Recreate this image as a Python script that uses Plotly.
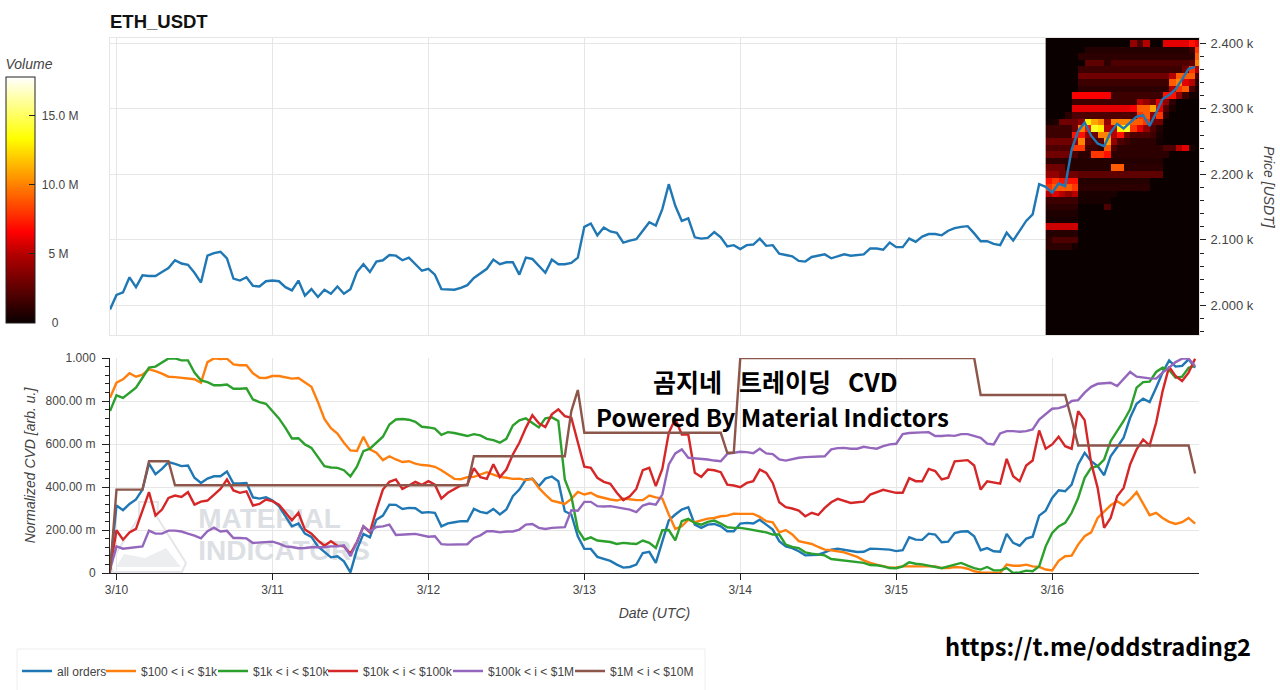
# ETH_USDT price / order book heatmap with normalized CVD per order size

import pandas as pd
import plotly.graph_objects as go

# hourly samples
times = pd.date_range('2022-03-09 23:00', periods=168, freq='h')

price = [
    1994, 2016, 2020, 2043, 2028, 2046, 2045, 2045, 2051, 2057, 2069, 2064, 2062, 2050, 2035, 2076, 2080, 2082, 2072, 2041, 2038, 2043, 2030, 2029,
    2037, 2038, 2037, 2028, 2023, 2038, 2015, 2025, 2013, 2024, 2018, 2029, 2018, 2025, 2051, 2063, 2051, 2067, 2069, 2077, 2076, 2069, 2073, 2063,
    2053, 2056, 2047, 2025, 2024, 2024, 2027, 2031, 2042, 2049, 2056, 2070, 2063, 2066, 2066, 2047, 2073, 2071, 2061, 2050, 2070, 2063, 2063, 2065,
    2073, 2120, 2125, 2107, 2119, 2113, 2111, 2096, 2099, 2101, 2114, 2127, 2122, 2147, 2185, 2152, 2129, 2133, 2104, 2102, 2103, 2112, 2104, 2090,
    2092, 2086, 2092, 2093, 2102, 2091, 2092, 2079, 2077, 2075, 2068, 2067, 2074, 2076, 2078, 2072, 2075, 2078, 2076, 2077, 2078, 2087, 2087, 2085,
    2096, 2089, 2089, 2102, 2097, 2105, 2109, 2109, 2107, 2114, 2118, 2120, 2121, 2110, 2098, 2098, 2094, 2092, 2111, 2099, 2114, 2129, 2139, 2185,
    2181, 2172, 2186, 2182, 2238, 2266, 2279, 2259, 2247, 2243, 2264, 2277, 2270, 2279, 2288, 2290, 2274, 2294, 2315, 2321, 2330, 2345, 2361, 2364,
]

all_orders = [
    .016, .314, .292, .321, .342, .388, .509, .460, .484, .516, .508, .497, .500, .443, .419, .439, .450, .450, .472, .416, .416, .419, .352, .346, .352,
    .337, .311, .267, .217, .230, .183, .168, .124, .098, .073, .078, .054, .003, .109, .182, .166, .248, .267, .318, .317, .298, .303, .301, .280,
    .283, .280, .217, .231, .236, .241, .241, .298, .284, .278, .298, .272, .295, .357, .388, .435, .438, .404, .439, .449, .427, .287, .272, .171,
    .112, .112, .075, .067, .056, .039, .025, .028, .039, .093, .098, .047, .148, .245, .272, .295, .306, .225, .210, .225, .228, .217, .194, .194,
    .230, .233, .230, .248, .225, .202, .148, .124, .116, .101, .082, .085, .085, .096, .109, .113, .109, .104, .098, .099, .113, .112, .110,
    .109, .102, .106, .166, .155, .154, .183, .179, .143, .146, .186, .193, .194, .171, .106, .116, .101, .099, .182, .140, .127, .160, .169,
    .267, .290, .349, .385, .380, .411, .505, .559, .520, .497, .455, .543, .585, .629, .722, .787, .811, .795, .862, .932, .989, .960, .963, .994, .955,
]
usd_100_1k = [
    .815, .885, .901, .929, .913, .922, .947, .939, .927, .913, .911, .908, .904, .901, .885, .981, .998, .995, .997, .970, .966, .966, .929, .908, .907,
    .916, .916, .910, .904, .907, .888, .866, .795, .717, .674, .649, .606, .570, .568, .634, .575, .559, .525, .543, .528, .516, .520, .509, .502,
    .500, .494, .478, .458, .438, .436, .446, .447, .458, .469, .458, .447, .443, .438, .439, .432, .438, .396, .365, .337, .329, .321, .345, .377,
    .365, .373, .357, .349, .342, .337, .346, .343, .339, .339, .360, .352, .346, .272, .205, .217, .248, .236, .245, .253, .256, .264, .267, .276,
    .275, .275, .275, .261, .241, .236, .189, .200, .179, .148, .140, .135, .121, .109, .106, .101, .096, .085, .075, .059, .047, .039, .031,
    .025, .026, .031, .031, .031, .028, .031, .031, .023, .023, .028, .026, .020, .008, .003, .003, 0, 0, .039, .034, .034, .039, .031,
    .028, .016, .012, .057, .078, .081, .132, .171, .189, .256, .287, .315, .334, .315, .342, .376, .323, .269, .280, .256, .238, .228, .236, .256, .230,
]
usd_1k_10k = [
    .753, .826, .814, .839, .862, .908, .955, .960, .981, .998, .998, .989, .989, .932, .896, .888, .873, .873, .877, .857, .857, .859, .807, .795, .787,
    .753, .719, .675, .626, .627, .598, .582, .539, .497, .491, .489, .478, .449, .494, .567, .578, .606, .634, .691, .714, .716, .713, .703, .680,
    .677, .672, .643, .655, .651, .644, .637, .646, .640, .624, .618, .606, .624, .686, .710, .719, .696, .677, .719, .724, .707, .435, .357, .202,
    .155, .166, .151, .149, .144, .135, .140, .137, .135, .151, .140, .116, .199, .200, .152, .241, .252, .233, .225, .238, .244, .230, .213, .210,
    .210, .205, .199, .193, .189, .179, .179, .132, .121, .116, .096, .090, .085, .082, .065, .062, .059, .053, .050, .047, .037, .036, .031,
    .023, .022, .031, .050, .043, .040, .034, .031, .022, .031, .039, .047, .034, .023, .016, .028, .012, .012, .023, 0, .003, .011, .008,
    .031, .124, .186, .217, .233, .280, .349, .443, .489, .497, .528, .613, .660, .707, .761, .862, .888, .890, .935, .955, .944, .908, .913, .955, .963,
]
usd_10k_100k = [
    .016, .199, .155, .189, .205, .295, .376, .267, .295, .349, .360, .354, .376, .318, .332, .337, .365, .391, .435, .384, .373, .380, .314, .321, .342,
    .334, .318, .280, .245, .280, .202, .183, .152, .127, .148, .127, .124, .090, .143, .217, .189, .295, .388, .424, .435, .391, .407, .424, .410,
    .427, .411, .346, .373, .391, .407, .411, .488, .446, .438, .506, .446, .481, .551, .606, .675, .734, .696, .679, .738, .761, .730, .722, .613,
    .494, .489, .443, .424, .415, .373, .339, .357, .391, .478, .489, .404, .484, .652, .717, .644, .644, .466, .447, .481, .478, .469, .411, .407,
    .399, .419, .427, .481, .466, .419, .329, .306, .300, .290, .264, .280, .270, .303, .329, .345, .334, .326, .329, .332, .365, .377, .387,
    .380, .373, .373, .441, .427, .427, .484, .474, .435, .443, .519, .523, .525, .500, .388, .427, .422, .416, .531, .450, .427, .500, .523,
    .663, .578, .598, .634, .590, .578, .753, .711, .512, .396, .210, .256, .357, .396, .505, .575, .621, .593, .699, .846, .960, .916, .893, .932, .997,
]
usd_100k_1m = [
    .016, .124, .113, .116, .118, .124, .197, .183, .183, .197, .197, .193, .183, .174, .161, .194, .211, .193, .196, .163, .163, .161, .140, .141, .144,
    .146, .137, .124, .121, .115, .116, .120, .120, .120, .124, .124, .129, .078, .143, .217, .194, .214, .217, .225, .177, .177, .180, .182, .174,
    .169, .171, .134, .132, .132, .132, .134, .163, .175, .194, .194, .189, .193, .193, .202, .225, .228, .210, .205, .210, .213, .213, .292, .290,
    .331, .331, .311, .309, .311, .306, .301, .295, .283, .314, .323, .318, .365, .505, .556, .575, .536, .533, .533, .528, .523, .520, .554, .559,
    .564, .562, .557, .578, .556, .553, .528, .523, .531, .536, .539, .540, .540, .543, .575, .581, .582, .578, .578, .587, .582, .578, .590,
    .598, .601, .646, .651, .651, .654, .655, .637, .637, .640, .638, .646, .646, .637, .629, .602, .598, .649, .660, .660, .657, .660, .668,
    .714, .738, .764, .767, .776, .800, .804, .839, .866, .880, .882, .885, .870, .901, .935, .913, .908, .905, .904, .932, .955, .981, .997, .997, .963,
]
usd_1m_10m = (
    [0] + [.388] * 5 + [.520] * 4 + [.408] * 46 + [.543] * 15 + [.753, .851] + [.652] * 22 + [.559] * 2
    + [1.0] * 37 + [.828] * 14 + [.714] + [.593] * 18 + [.463]
)

series_names = ['all orders', '$100 &lt; i &lt; $1k', '$1k &lt; i &lt; $10k', '$10k &lt; i &lt; $100k',
                '$100k &lt; i &lt; $1M', '$1M &lt; i &lt; $10M']
series_values = [all_orders, usd_100_1k, usd_1k_10k, usd_10k_100k, usd_100k_1m, usd_1m_10m]
series_colors = ['#1f77b4', '#ff7f0e', '#2ca02c', '#d62728', '#9467bd', '#8c564b']

# volume heatmap, in millions: one row per 10 USD price level, last 24 hours
heat_levels = [2410 - 10 * k for k in range(47)]
heat_times = pd.date_range('2022-03-15 23:00', periods=25, freq='h')
heat_rows = [
    [0] * 24,
    [0, 0, 0, 0, 0, 0, 0, 0, 0, 0, 0, 0, 0, 4, 2, 5, 0, 0, 6, 6, 6, 6, 7, 6],
    [0, 0, 0, 0, 0, 0, .8, .8, .8, .8, .8, .8, .8, .8, .8, .8, .8, .8, .8, .8, .8, .8, 1.5, 8],
    [0, 0, 0, 0, 0, 1, 1, 1, 1, 1, 1, 1, 1, 1, 1, 1, 1, 1, 1, 1, 1, 1, 1, 9],
    [0, 0, 0, 0, 0, 0, 2.5, 2.5, 2.5, 1, 2, 2, 2, 2, 2, 2, 2, 2, 2, 2, 2, 2, 2.5, 10],
    [0, 0, 0, 0, 0, 1.5, 1.5, 1.5, 1.5, 1.5, 1.5, 1.5, 1.5, 1.5, 1.5, 1.5, 1.5, 1.5, 1.5, 1.5, 1.5, 3, 8, 5],
    [0, 0, 0, 0, 0, 3, 3, 3, 3, 3, 3, 3, 3, 3, 3, 3, 3, 3, 3, 5, 9, 9, 9, 2],
    [0, 0, 0, 0, 0, 1.5, 1.5, 1.5, 1.5, 1.5, 1.5, 1.5, 1.5, 1.5, 1.5, 1.5, 1.5, 1.5, 1.5, 9, 10, 6, 5, 1],
    [0, 0, 0, 0, 0, 1, 1, 1, 1, 1, 1, 1, 1, 1, 1, 1, 1, 1, 1, 5, 8, 9, 2, .5],
    [0, 0, 0, 0, 6.5, 6.5, 6.5, 6.5, 6.5, 6.5, 1.5, 1.5, 1.5, 1.5, 1.5, 1.5, 1.5, 1.5, 7, 7, 4, 1.5, .3, .3],
    [0, 0, 0, 0, 1.5, 1.5, 1.5, 1.5, 1.5, 1.5, 1.5, 1.5, 1.5, 1.5, 5, 4, 3, 6, 4, 1, 0, 0, 0, 0],
    [0, 0, 0, 0, 6, 6, 6, 6, 6, 6, 6, 6, 6, 6.5, 9, 9, 11, 6, 2, .5, 0, 0, 0, 0],
    [0, 0, 0, 1, 2, 2, 2, 2, 2, 2, 2, 2, 2, 2, 8, 9, 4, 8, 1, 0, 0, 0, 0, 0],
    [.3, .5, 3, 3, 3, 4, 13, 11, 10, 4, 10, 10, 10, 9, 9, 8, 3, 3, 0, 0, 0, 0, 0, 0],
    [1.5, 1.5, 1.5, 1.5, 3, 10, 7, 14, 13, 5, 5, 13, 14, 8, 6, 4, 2, .8, 0, 0, 0, 0, 0, 0],
    [1.5, 1.5, 1.5, 1.5, 7, 7, 4, 3, 10, 10, 5, 7, 3, 2, 2, 2, 1.5, .5, 0, 0, 0, 0, 0, 0],
    [3, 3, 3, 3, 4, 10, 2.5, 2, 2.5, 11, 4, 2, 1.5, 1, 1, 1, 1, .3, 0, 0, 0, 0, 0, 0],
    [2, 2, 2, 2, 8, 8, 1.5, 1.5, 1, 9, 2, 1, 1, 1, 1, 1, 1, 1, 2, 2, 5, 6, .5, 0],
    [3, 3, 3, 3, 2, 1, 1, 8, 8, 7, 1, 1, 1, 1, 1, 1, 1, 1, 1, 0, 0, 0, 0, 0],
    [1, 1, 1, 1, .8, .8, .8, .8, .8, .8, .8, .8, .8, .8, .8, .8, .8, .8, 0, 0, 0, 0, 0, 0],
    [3, 3, 3, 1, .8, .8, .8, .8, .8, .8, 9, 9, 1, 1, 1, 1, 1, 1, 0, 0, 0, 0, 0, 0],
    [4, 4, 3, 3, 3, 2.5, 2.5, 2.5, 2.5, 2.5, 2.5, 2.5, 2.5, 2.5, 2.5, 2.5, 2.5, 2.5, 0, 0, 0, 0, 0, 0],
    [7, 8, 7, 7, 7, .8, .8, .8, .8, .8, .8, .8, .8, .8, .8, .8, 0, 0, 0, 0, 0, 0, 0, 0],
    [8, 9, 9, 9, 8, 1, 1, 1, 1, 1, 1, 1, 1, 1, 1, 1, 0, 0, 0, 0, 0, 0, 0, 0],
    [5, 6, 5, 4, 5, .5, .5, .5, .5, .5, .5, 0, 0, 0, 0, 0, 0, 0, 0, 0, 0, 0, 0, 0],
    [1.5, 1.5, 1.5, 1.5, 1.5, .4, .4, .4, .4, .4, 0, 0, 0, 0, 0, 0, 0, 0, 0, 0, 0, 0, 0, 0],
    [1, 1, 1, 1, 1, 0, 0, 0, 0, 2, 0, 0, 0, 0, 0, 0, 0, 0, 0, 0, 0, 0, 0, 0],
    [.6, .6, .6, .6, .6] + [0] * 19,
    [.4, .4, .4, .4, .4] + [0] * 19,
    [5.5, 5.5, 5.5, 5.5, 5.5] + [0] * 19,
    [.8, .8, .8, .8, .8] + [0] * 19,
    [1, 2, 2, 2, 2] + [0] * 19,
    [1, 1, 1, 1, .3] + [0] * 19,
] + [[0] * 24] * 14

heat_scale = [[0, '#0a0000'], [.28, '#b40000'], [.37, '#ff0000'], [.56, '#ff8000'],
              [.75, '#ffff00'], [1, '#ffffff']]

# where each legend entry's text starts, left to right
legend_starts = [57, 141, 253, 363, 488, 610]

GREY = '#444444'
GRID = '#e6e6e6'
BASE = 'Liberation Sans'
KR = 'Noto Sans CJK KR'


# pixel position on the page to paper fraction
def px(x):
    return (x - 110) / 1089


def py(y):
    return (573 - y) / 535


def path(points):
    return 'M' + 'L'.join(f'{px(a):.4f},{py(b):.4f}' for a, b in points) + 'Z'


def note(text, x, y, size, angle=0, color='black', family=KR):
    return dict(text=text, xref='paper', yref='paper', x=px(x), y=py(y), xanchor='center', yanchor='middle',
                textangle=angle, showarrow=False, font=dict(size=size, color=color, family=family))


fig = go.Figure()

fig.add_trace(go.Heatmap(
    x=heat_times, y=heat_levels[::-1], z=heat_rows[::-1],
    xaxis='x', yaxis='y',
    zmin=0, zmax=17.8,
    colorscale=heat_scale,
    hoverinfo='skip',
    colorbar=dict(
        title=dict(text='<i>Volume</i>', side='top', font=dict(size=14, color=GREY, family=BASE)),
        x=px(6), xanchor='left', xpad=0,
        y=py(56), yanchor='top', ypad=0,
        len=267, lenmode='pixels',
        thickness=29,
        outlinecolor='#222222', outlinewidth=1,
        ticks='inside', ticklen=6, tickcolor='#222222',
        tickvals=[0, 5, 10, 15],
        ticktext=['\u00a0\u00a0\u00a0\u00a00', '\u00a0\u00a0\u00a05 M', '\u00a010.0 M', '\u00a015.0 M'],
        tickfont=dict(size=12, color=GREY, family=BASE),
    ),
))

fig.add_trace(go.Scatter(
    x=times, y=price, mode='lines', xaxis='x', yaxis='y',
    line=dict(color='#1f77b4', width=2.4), showlegend=False,
))

# faint watermark goes first so the CVD lines run over it
fig.add_trace(go.Scatter(
    x=['2022-03-10 12:35', '2022-03-10 12:35'], y=[.24, .095],
    mode='text', text=['<b>MATERIAL</b>', '<b>INDICATORS</b>'], textposition='middle right',
    textfont=dict(size=28, color='#dcdfe3', family=BASE),
    xaxis='x2', yaxis='y2', showlegend=False, hoverinfo='skip',
))

# one legend per entry, the entries are not evenly spaced
legends = {}
for k, (name, vals, color) in enumerate(zip(series_names, series_values, series_colors)):
    key = 'legend' if k == 0 else f'legend{k + 1}'
    fig.add_trace(go.Scatter(
        x=times, y=vals, name=name, mode='lines', xaxis='x2', yaxis='y2',
        line=dict(color=color, width=2.4), legend=key,
    ))
    legends[key] = dict(
        x=px(legend_starts[k] - 40), xanchor='left', y=py(671), yanchor='middle',
        font=dict(size=12, color=GREY, family=BASE),
        bgcolor='rgba(0,0,0,0)', borderwidth=0, itemwidth=30, itemclick=False,
    )

x_range = ['2022-03-09 23:00', '2022-03-16 22:36']
day_ticks = pd.date_range('2022-03-10', periods=7, freq='D')
day_labels = ['3/10', '3/11', '3/12', '3/13', '3/14', '3/15', '3/16']

fig.update_layout(
    width=1280, height=690,
    margin=dict(l=110, r=81, t=38, b=117, autoexpand=False),
    paper_bgcolor='white', plot_bgcolor='white',
    font=dict(family=BASE, color=GREY),
    title=dict(text='<b>ETH_USDT</b>', x=110 / 1280, xanchor='left', xref='container',
               y=1 - 22 / 690, yanchor='middle', font=dict(size=18.5, color='#111111', family=BASE)),
    xaxis=dict(
        domain=[0, 1], anchor='y', range=x_range,
        tickvals=day_ticks, showticklabels=False, ticks='',
        showgrid=True, gridcolor=GRID, gridwidth=1,
        showline=True, linecolor=GRID, mirror=True, zeroline=False,
    ),
    yaxis=dict(
        domain=[(573 - 335) / 535, 1], anchor='x', side='right',
        range=[1955, 2408],
        tickvals=[2000, 2100, 2200, 2300, 2400],
        ticktext=['2.000 k', '2.100 k', '2.200 k', '2.300 k', '2.400 k'],
        tickfont=dict(size=13, color=GREY), ticklabelstandoff=2,
        ticks='outside', ticklen=6, tickcolor='#222222',
        minor=dict(dtick=20, ticks='outside', ticklen=4, tickcolor='#222222', showgrid=False),
        showgrid=True, gridcolor=GRID, gridwidth=1,
        showline=True, linecolor=GRID, mirror=True, zeroline=False,
    ),
    xaxis2=dict(
        domain=[0, 1], anchor='y2', range=x_range,
        tickvals=day_ticks, ticktext=day_labels,
        tickfont=dict(size=12, color=GREY),
        ticks='outside', ticklen=6, tickcolor='#222222',
        showgrid=True, gridcolor=GRID, gridwidth=1,
        showline=True, linecolor='#222222', zeroline=False,
        title=dict(text='<i>Date (UTC)</i>', font=dict(size=14, color=GREY), standoff=11),
    ),
    yaxis2=dict(
        domain=[0, (573 - 358) / 535], anchor='x2',
        range=[0, 1],
        tickvals=[0, .2, .4, .6, .8, 1],
        ticktext=['0', '200.00 m', '400.00 m', '600.00 m', '800.00 m', '1.000'],
        tickfont=dict(size=12, color=GREY), ticklabelstandoff=4,
        ticks='outside', ticklen=7, tickcolor='#222222',
        minor=dict(dtick=.04, ticks='outside', ticklen=4, tickcolor='#222222', showgrid=False),
        showgrid=True, gridcolor=GRID, gridwidth=1,
        showline=True, linecolor='#222222', zeroline=False,
        title=dict(text='<i>Normalized CVD [arb. u.]</i>', font=dict(size=14, color=GREY), standoff=6),
    ),
    shapes=[
        # legend box, runs off the bottom of the page
        dict(type='rect', xref='paper', yref='paper', x0=px(17), x1=px(705), y0=py(649), y1=py(700),
             line=dict(color='#eeeeee', width=1), fillcolor='white', layer='below'),
        # watermark flask
        dict(type='path', xref='paper', yref='paper', layer='below',
             path=path([(139, 502), (158, 502), (157, 517), (186, 563), (182, 572), (113, 572), (110, 563), (139, 517)]),
             line=dict(color='#e4e6e9', width=2), fillcolor='rgba(0,0,0,0)'),
        dict(type='path', xref='paper', yref='paper', layer='below',
             path=path([(116, 567), (124, 554), (145, 558), (166, 548), (181, 567)]),
             line=dict(width=0), fillcolor='#eceef0'),
    ],
    annotations=[
        note('<i>Price [USDT]</i>', 1269, 187, 14, angle=90, color=GREY, family=BASE),
        note('<b>곰지네\u00a0 \u00a0트레이딩\u00a0 \u00a0CVD</b>', 775, 381, 25),
        note('<b>Powered By Material Indictors</b>', 772, 416, 24),
        note('<b>https://t.me/oddstrading2</b>', 1097.5, 646, 23.7),
    ],
    **legends,
)

fig.write_html("out.html", post_script="document.body.style.margin='0';", config=dict(displayModeBar=False))
